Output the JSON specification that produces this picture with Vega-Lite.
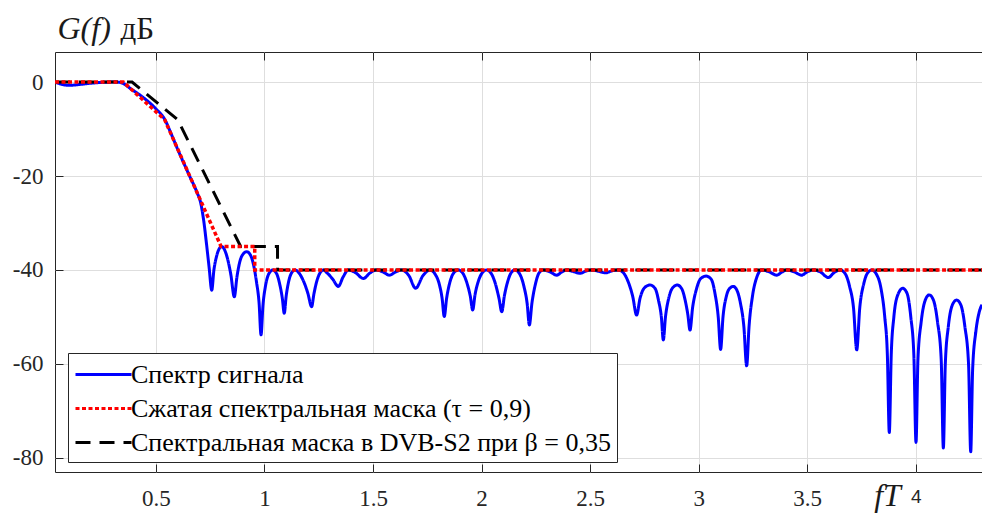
{
  "$schema": "https://vega.github.io/schema/vega-lite/v6.json",
  "width": 927,
  "height": 420,
  "autosize": {"type": "none"},
  "padding": {"left": 55, "top": 52, "right": 0, "bottom": 43},
  "background": "white",
  "config": {
    "font": "Liberation Serif",
    "view": {"stroke": "#262626", "strokeWidth": 1},
    "axis": {"labelFont": "Liberation Serif", "labelFontSize": 23, "labelColor": "#262626", "tickColor": "#262626", "tickSize": -8, "tickWidth": 1, "domain": false, "gridColor": "#dedede", "gridWidth": 1, "gridOpacity": 1, "titleFont": "Liberation Serif", "titleFontWeight": "normal", "titleColor": "#1a1a1a"},
    "legend": {"orient": "none", "legendX": 13, "legendY": 301, "strokeColor": "#262626", "fillColor": "white", "padding": 6, "symbolType": "M-2,0H2", "symbolSize": 784, "symbolOffset": 14, "symbolStrokeWidth": 3, "labelFont": "Liberation Serif", "labelFontSize": 26, "labelColor": "#000000", "labelLimit": 0, "labelOffset": 12, "rowPadding": 5}
  },
  "data": {"values": [
    {"s": "Спектр сигнала", "f": 0.035, "g": 0},
    {"s": "Спектр сигнала", "f": 0.06, "g": -0.4},
    {"s": "Спектр сигнала", "f": 0.1, "g": -0.7},
    {"s": "Спектр сигнала", "f": 0.15, "g": -0.5},
    {"s": "Спектр сигнала", "f": 0.2, "g": -0.25},
    {"s": "Спектр сигнала", "f": 0.26, "g": -0.05},
    {"s": "Спектр сигнала", "f": 0.32, "g": 0},
    {"s": "Спектр сигнала", "f": 0.345, "g": -0.2},
    {"s": "Спектр сигнала", "f": 0.38, "g": -1.3},
    {"s": "Спектр сигнала", "f": 0.45, "g": -3.6},
    {"s": "Спектр сигнала", "f": 0.5, "g": -5.7},
    {"s": "Спектр сигнала", "f": 0.54, "g": -7.9},
    {"s": "Спектр сигнала", "f": 0.57, "g": -11},
    {"s": "Спектр сигнала", "f": 0.6, "g": -14.3},
    {"s": "Спектр сигнала", "f": 0.65, "g": -19.5},
    {"s": "Спектр сигнала", "f": 0.69, "g": -23.6},
    {"s": "Спектр сигнала", "f": 0.705, "g": -25.5},
    {"s": "Спектр сигнала", "f": 0.72, "g": -29.5},
    {"s": "Спектр сигнала", "f": 0.733, "g": -34.5},
    {"s": "Спектр сигнала", "f": 0.745, "g": -39.5},
    {"s": "Спектр сигнала", "f": 0.757, "g": -44.3},
    {"s": "Спектр сигнала", "f": 0.767, "g": -40},
    {"s": "Спектр сигнала", "f": 0.778, "g": -37.3},
    {"s": "Спектр сигнала", "f": 0.79, "g": -35.6},
    {"s": "Спектр сигнала", "f": 0.803, "g": -35},
    {"s": "Спектр сигнала", "f": 0.815, "g": -35.6},
    {"s": "Спектр сигнала", "f": 0.828, "g": -37.3},
    {"s": "Спектр сигнала", "f": 0.845, "g": -41},
    {"s": "Спектр сигнала", "f": 0.861, "g": -45.7},
    {"s": "Спектр сигнала", "f": 0.873, "g": -41.5},
    {"s": "Спектр сигнала", "f": 0.886, "g": -38.3},
    {"s": "Спектр сигнала", "f": 0.9, "g": -36.7},
    {"s": "Спектр сигнала", "f": 0.918, "g": -36.1},
    {"s": "Спектр сигнала", "f": 0.935, "g": -36.8},
    {"s": "Спектр сигнала", "f": 0.95, "g": -39},
    {"s": "Спектр сигнала", "f": 0.963, "g": -42.5},
    {"s": "Спектр сигнала", "f": 0.975, "g": -47},
    {"s": "Спектр сигнала", "f": 0.984, "g": -53.8},
    {"s": "Спектр сигнала", "f": 0.993, "g": -47.5},
    {"s": "Спектр сигнала", "f": 1.005, "g": -43.3},
    {"s": "Спектр сигнала", "f": 1.02, "g": -40.8},
    {"s": "Спектр сигнала", "f": 1.038, "g": -40},
    {"s": "Спектр сигнала", "f": 1.056, "g": -40.8},
    {"s": "Спектр сигнала", "f": 1.07, "g": -43},
    {"s": "Спектр сигнала", "f": 1.082, "g": -46},
    {"s": "Спектр сигнала", "f": 1.091, "g": -49.2},
    {"s": "Спектр сигнала", "f": 1.1, "g": -45.5},
    {"s": "Спектр сигнала", "f": 1.112, "g": -42.3},
    {"s": "Спектр сигнала", "f": 1.125, "g": -40.6},
    {"s": "Спектр сигнала", "f": 1.14, "g": -40},
    {"s": "Спектр сигнала", "f": 1.16, "g": -40.7},
    {"s": "Спектр сигнала", "f": 1.18, "g": -42.4},
    {"s": "Спектр сигнала", "f": 1.2, "g": -45},
    {"s": "Спектр сигнала", "f": 1.217, "g": -47.8},
    {"s": "Спектр сигнала", "f": 1.228, "g": -45},
    {"s": "Спектр сигнала", "f": 1.242, "g": -42.2},
    {"s": "Спектр сигнала", "f": 1.256, "g": -40.6},
    {"s": "Спектр сигнала", "f": 1.271, "g": -40},
    {"s": "Спектр сигнала", "f": 1.29, "g": -40.7},
    {"s": "Спектр сигнала", "f": 1.315, "g": -42},
    {"s": "Спектр сигнала", "f": 1.34, "g": -43.5},
    {"s": "Спектр сигнала", "f": 1.362, "g": -41.5},
    {"s": "Спектр сигнала", "f": 1.386, "g": -40},
    {"s": "Спектр сигнала", "f": 1.42, "g": -40.6},
    {"s": "Спектр сигнала", "f": 1.455, "g": -41.8},
    {"s": "Спектр сигнала", "f": 1.487, "g": -40.6},
    {"s": "Спектр сигнала", "f": 1.515, "g": -40},
    {"s": "Спектр сигнала", "f": 1.545, "g": -40.4},
    {"s": "Спектр сигнала", "f": 1.575, "g": -41.1},
    {"s": "Спектр сигнала", "f": 1.605, "g": -40.4},
    {"s": "Спектр сигнала", "f": 1.632, "g": -40},
    {"s": "Спектр сигнала", "f": 1.665, "g": -41.2},
    {"s": "Спектр сигнала", "f": 1.696, "g": -43.9},
    {"s": "Спектр сигнала", "f": 1.73, "g": -41.2},
    {"s": "Спектр сигнала", "f": 1.762, "g": -40},
    {"s": "Спектр сигнала", "f": 1.786, "g": -40.9},
    {"s": "Спектр сигнала", "f": 1.805, "g": -43},
    {"s": "Спектр сигнала", "f": 1.818, "g": -46},
    {"s": "Спектр сигнала", "f": 1.828, "g": -49.9},
    {"s": "Спектр сигнала", "f": 1.839, "g": -46},
    {"s": "Спектр сигнала", "f": 1.854, "g": -42.6},
    {"s": "Спектр сигнала", "f": 1.872, "g": -40.6},
    {"s": "Спектр сигнала", "f": 1.893, "g": -40},
    {"s": "Спектр сигнала", "f": 1.915, "g": -40.8},
    {"s": "Спектр сигнала", "f": 1.934, "g": -43},
    {"s": "Спектр сигнала", "f": 1.948, "g": -45.6},
    {"s": "Спектр сигнала", "f": 1.959, "g": -48.5},
    {"s": "Спектр сигнала", "f": 1.97, "g": -45.2},
    {"s": "Спектр сигнала", "f": 1.985, "g": -42.4},
    {"s": "Спектр сигнала", "f": 2.003, "g": -40.6},
    {"s": "Спектр сигнала", "f": 2.023, "g": -40},
    {"s": "Спектр сигнала", "f": 2.045, "g": -40.8},
    {"s": "Спектр сигнала", "f": 2.064, "g": -43},
    {"s": "Спектр сигнала", "f": 2.08, "g": -46},
    {"s": "Спектр сигнала", "f": 2.093, "g": -48.9},
    {"s": "Спектр сигнала", "f": 2.105, "g": -45.5},
    {"s": "Спектр сигнала", "f": 2.12, "g": -42.5},
    {"s": "Спектр сигнала", "f": 2.136, "g": -40.6},
    {"s": "Спектр сигнала", "f": 2.154, "g": -40},
    {"s": "Спектр сигнала", "f": 2.175, "g": -40.8},
    {"s": "Спектр сигнала", "f": 2.195, "g": -43.5},
    {"s": "Спектр сигнала", "f": 2.21, "g": -47.2},
    {"s": "Спектр сигнала", "f": 2.22, "g": -51.7},
    {"s": "Спектр сигнала", "f": 2.232, "g": -47},
    {"s": "Спектр сигнала", "f": 2.248, "g": -43},
    {"s": "Спектр сигнала", "f": 2.265, "g": -40.6},
    {"s": "Спектр сигнала", "f": 2.284, "g": -40},
    {"s": "Спектр сигнала", "f": 2.315, "g": -40.4},
    {"s": "Спектр сигнала", "f": 2.346, "g": -41.1},
    {"s": "Спектр сигнала", "f": 2.37, "g": -40.4},
    {"s": "Спектр сигнала", "f": 2.392, "g": -40},
    {"s": "Спектр сигнала", "f": 2.42, "g": -40.3},
    {"s": "Спектр сигнала", "f": 2.453, "g": -40.7},
    {"s": "Спектр сигнала", "f": 2.483, "g": -40.2},
    {"s": "Спектр сигнала", "f": 2.51, "g": -40},
    {"s": "Спектр сигнала", "f": 2.54, "g": -40.3},
    {"s": "Спектр сигнала", "f": 2.57, "g": -40.6},
    {"s": "Спектр сигнала", "f": 2.6, "g": -40.2},
    {"s": "Спектр сигнала", "f": 2.63, "g": -40},
    {"s": "Спектр сигнала", "f": 2.655, "g": -40.7},
    {"s": "Спектр сигнала", "f": 2.676, "g": -42.6},
    {"s": "Спектр сигнала", "f": 2.696, "g": -45.6},
    {"s": "Спектр сигнала", "f": 2.714, "g": -49.6},
    {"s": "Спектр сигнала", "f": 2.73, "g": -46},
    {"s": "Спектр сигнала", "f": 2.75, "g": -43.8},
    {"s": "Спектр сигнала", "f": 2.776, "g": -43.2},
    {"s": "Спектр сигнала", "f": 2.8, "g": -44},
    {"s": "Спектр сигнала", "f": 2.815, "g": -46.5},
    {"s": "Спектр сигнала", "f": 2.828, "g": -50},
    {"s": "Спектр сигнала", "f": 2.837, "g": -54.9},
    {"s": "Спектр сигнала", "f": 2.847, "g": -50},
    {"s": "Спектр сигнала", "f": 2.862, "g": -46},
    {"s": "Спектр сигнала", "f": 2.88, "g": -43.8},
    {"s": "Спектр сигнала", "f": 2.901, "g": -43.2},
    {"s": "Спектр сигнала", "f": 2.922, "g": -44},
    {"s": "Спектр сигнала", "f": 2.938, "g": -46.5},
    {"s": "Спектр сигнала", "f": 2.95, "g": -49.5},
    {"s": "Спектр сигнала", "f": 2.96, "g": -52.8},
    {"s": "Спектр сигнала", "f": 2.972, "g": -48},
    {"s": "Спектр сигнала", "f": 2.99, "g": -44},
    {"s": "Спектр сигнала", "f": 3.01, "g": -41.8},
    {"s": "Спектр сигнала", "f": 3.034, "g": -41.3},
    {"s": "Спектр сигнала", "f": 3.058, "g": -42},
    {"s": "Спектр сигнала", "f": 3.075, "g": -45},
    {"s": "Спектр сигнала", "f": 3.09, "g": -50},
    {"s": "Спектр сигнала", "f": 3.101, "g": -56.9},
    {"s": "Спектр сигнала", "f": 3.112, "g": -50},
    {"s": "Спектр сигнала", "f": 3.128, "g": -45.5},
    {"s": "Спектр сигнала", "f": 3.145, "g": -43.8},
    {"s": "Спектр сигнала", "f": 3.159, "g": -43.5},
    {"s": "Спектр сигнала", "f": 3.175, "g": -44.2},
    {"s": "Спектр сигнала", "f": 3.192, "g": -47},
    {"s": "Спектр сигнала", "f": 3.208, "g": -52},
    {"s": "Спектр сигнала", "f": 3.221, "g": -60.4},
    {"s": "Спектр сигнала", "f": 3.232, "g": -52},
    {"s": "Спектр сигнала", "f": 3.248, "g": -45.5},
    {"s": "Спектр сигнала", "f": 3.268, "g": -41.5},
    {"s": "Спектр сигнала", "f": 3.29, "g": -40},
    {"s": "Спектр сигнала", "f": 3.325, "g": -40.4},
    {"s": "Спектр сигнала", "f": 3.359, "g": -41.1},
    {"s": "Спектр сигнала", "f": 3.385, "g": -40.4},
    {"s": "Спектр сигнала", "f": 3.405, "g": -40},
    {"s": "Спектр сигнала", "f": 3.44, "g": -40.4},
    {"s": "Спектр сигнала", "f": 3.474, "g": -41.1},
    {"s": "Спектр сигнала", "f": 3.5, "g": -40.4},
    {"s": "Спектр сигнала", "f": 3.525, "g": -40},
    {"s": "Спектр сигнала", "f": 3.56, "g": -40.4},
    {"s": "Спектр сигнала", "f": 3.597, "g": -41.6},
    {"s": "Спектр сигнала", "f": 3.625, "g": -40.5},
    {"s": "Спектр сигнала", "f": 3.651, "g": -40},
    {"s": "Спектр сигнала", "f": 3.675, "g": -40.8},
    {"s": "Спектр сигнала", "f": 3.695, "g": -43.5},
    {"s": "Спектр сигнала", "f": 3.713, "g": -48},
    {"s": "Спектр сигнала", "f": 3.728, "g": -57},
    {"s": "Спектр сигнала", "f": 3.742, "g": -48},
    {"s": "Спектр сигнала", "f": 3.76, "g": -43},
    {"s": "Спектр сигнала", "f": 3.777, "g": -40.7},
    {"s": "Спектр сигнала", "f": 3.797, "g": -40},
    {"s": "Спектр сигнала", "f": 3.82, "g": -41},
    {"s": "Спектр сигнала", "f": 3.84, "g": -44},
    {"s": "Спектр сигнала", "f": 3.857, "g": -50},
    {"s": "Спектр сигнала", "f": 3.869, "g": -58},
    {"s": "Спектр сигнала", "f": 3.878, "g": -74.6},
    {"s": "Спектр сигнала", "f": 3.887, "g": -58},
    {"s": "Спектр сигнала", "f": 3.899, "g": -50},
    {"s": "Спектр сигнала", "f": 3.918, "g": -45.2},
    {"s": "Спектр сигнала", "f": 3.94, "g": -43.9},
    {"s": "Спектр сигнала", "f": 3.96, "g": -45},
    {"s": "Спектр сигнала", "f": 3.977, "g": -50},
    {"s": "Спектр сигнала", "f": 3.991, "g": -58},
    {"s": "Спектр сигнала", "f": 4.001, "g": -76.7},
    {"s": "Спектр сигнала", "f": 4.01, "g": -59},
    {"s": "Спектр сигнала", "f": 4.025, "g": -51},
    {"s": "Спектр сигнала", "f": 4.043, "g": -46.5},
    {"s": "Спектр сигнала", "f": 4.062, "g": -45.3},
    {"s": "Спектр сигнала", "f": 4.082, "g": -46.5},
    {"s": "Спектр сигнала", "f": 4.1, "g": -51},
    {"s": "Спектр сигнала", "f": 4.117, "g": -59},
    {"s": "Спектр сигнала", "f": 4.127, "g": -77.9},
    {"s": "Спектр сигнала", "f": 4.136, "g": -60},
    {"s": "Спектр сигнала", "f": 4.15, "g": -52},
    {"s": "Спектр сигнала", "f": 4.168, "g": -47.5},
    {"s": "Спектр сигнала", "f": 4.188, "g": -46.4},
    {"s": "Спектр сигнала", "f": 4.208, "g": -47.5},
    {"s": "Спектр сигнала", "f": 4.226, "g": -52},
    {"s": "Спектр сигнала", "f": 4.243, "g": -60},
    {"s": "Спектр сигнала", "f": 4.253, "g": -78.7},
    {"s": "Спектр сигнала", "f": 4.262, "g": -61},
    {"s": "Спектр сигнала", "f": 4.277, "g": -53},
    {"s": "Спектр сигнала", "f": 4.292, "g": -49},
    {"s": "Спектр сигнала", "f": 4.305, "g": -47.4},
    {"s": "Спектральная маска в DVB-S2 при β = 0,35", "f": 0.035, "g": 0},
    {"s": "Спектральная маска в DVB-S2 при β = 0,35", "f": 0.39, "g": 0},
    {"s": "Спектральная маска в DVB-S2 при β = 0,35", "f": 0.6, "g": -8},
    {"s": "Спектральная маска в DVB-S2 при β = 0,35", "f": 0.89, "g": -35},
    {"s": "Спектральная маска в DVB-S2 при β = 0,35", "f": 1.06, "g": -35},
    {"s": "Спектральная маска в DVB-S2 при β = 0,35", "f": 1.0601, "g": -40},
    {"s": "Спектральная маска в DVB-S2 при β = 0,35", "f": 4.305, "g": -40},
    {"s": "Сжатая спектральная маска (τ = 0,9)", "f": 0.035, "g": 0},
    {"s": "Сжатая спектральная маска (τ = 0,9)", "f": 0.35, "g": 0},
    {"s": "Сжатая спектральная маска (τ = 0,9)", "f": 0.54, "g": -8},
    {"s": "Сжатая спектральная маска (τ = 0,9)", "f": 0.8, "g": -35},
    {"s": "Сжатая спектральная маска (τ = 0,9)", "f": 0.955, "g": -35},
    {"s": "Сжатая спектральная маска (τ = 0,9)", "f": 0.9551, "g": -40},
    {"s": "Сжатая спектральная маска (τ = 0,9)", "f": 4.305, "g": -40}
  ]},
  "layer": [
    {
      "transform": [{"filter": "datum.s == 'Спектр сигнала'"}],
      "mark": {"type": "line", "strokeWidth": 3, "interpolate": "monotone", "clip": true},
      "encoding": {
        "x": {"field": "f", "type": "quantitative", "scale": {"domain": [0.035, 4.305], "nice": false, "zero": false},
          "axis": {"orient": "bottom", "values": [0.5, 1, 1.5, 2, 2.5, 3, 3.5, 4], "format": ".1~f", "grid": true, "labelPadding": 23,
            "labelFont": {"condition": {"test": "datum.value == 4", "value": "Liberation Sans"}, "value": "Liberation Serif"},
            "labelFontSize": {"condition": {"test": "datum.value == 4", "value": 19}, "value": 23},
            "title": "fT", "titleFont": "Liberation Serif", "titleFontStyle": "italic", "titleFontSize": 32, "titleX": 832, "titleY": 33, "titleAlign": "center", "titleBaseline": "alphabetic"}},
        "y": {"field": "g", "type": "quantitative", "scale": {"domain": [-83, 6.4], "nice": false, "zero": false},
          "axis": {"values": [0, -20, -40, -60, -80], "grid": true, "labelPadding": 20, "labelFont": "Liberation Serif", "labelFontSize": 23, "labelExpr": "replace(datum.label, '−', '-')",
            "title": "дБ", "titleFont": "Liberation Serif", "titleAngle": 0, "titleFontSize": 31, "titleFontStyle": "normal", "titleX": 65, "titleY": -14, "titleAlign": "left", "titleBaseline": "alphabetic"}},
        "color": {"field": "s", "type": "nominal", "scale": {"domain": ["Спектр сигнала", "Сжатая спектральная маска (τ = 0,9)", "Спектральная маска в DVB-S2 при β = 0,35"], "range": ["#0000ff", "#ff0000", "#000000"]}, "legend": {"title": null, "symbolType": "M-2,0H2"}},
        "strokeDash": {"field": "s", "type": "nominal", "scale": {"domain": ["Спектр сигнала", "Сжатая спектральная маска (τ = 0,9)", "Спектральная маска в DVB-S2 при β = 0,35"], "range": [[1, 0], [4, 2.5], [15, 9]]}, "legend": {"title": null, "symbolType": "M-2,0H2"}}
      }
    },
    {
      "transform": [{"filter": "datum.s == 'Спектральная маска в DVB-S2 при β = 0,35'"}],
      "mark": {"type": "line", "strokeWidth": 3, "clip": true},
      "encoding": {
        "x": {"field": "f", "type": "quantitative", "scale": {"domain": [0.035, 4.305], "nice": false, "zero": false}, "axis": null},
        "y": {"field": "g", "type": "quantitative", "scale": {"domain": [-83, 6.4], "nice": false, "zero": false}},
        "color": {"field": "s", "type": "nominal", "legend": {"title": null}},
        "strokeDash": {"field": "s", "type": "nominal", "legend": {"title": null}}
      }
    },
    {
      "transform": [{"filter": "datum.s == 'Сжатая спектральная маска (τ = 0,9)'"}],
      "mark": {"type": "line", "strokeWidth": 3.5, "clip": true},
      "encoding": {
        "x": {"field": "f", "type": "quantitative", "scale": {"domain": [0.035, 4.305], "nice": false, "zero": false},
          "axis": {"orient": "top", "values": [0.5, 1, 1.5, 2, 2.5, 3, 3.5, 4], "labels": false, "grid": false,
            "title": "G(f)", "titleFont": "Liberation Serif", "titleFontStyle": "italic", "titleFontSize": 32, "titleX": 2, "titleY": -14, "titleAlign": "left", "titleBaseline": "alphabetic", "titleAngle": 0}},
        "y": {"field": "g", "type": "quantitative", "scale": {"domain": [-83, 6.4], "nice": false, "zero": false}},
        "color": {"field": "s", "type": "nominal", "legend": {"title": null}},
        "strokeDash": {"field": "s", "type": "nominal", "legend": {"title": null}}
      }
    }
  ],
  "resolve": {"axis": {"x": "independent"}}
}
